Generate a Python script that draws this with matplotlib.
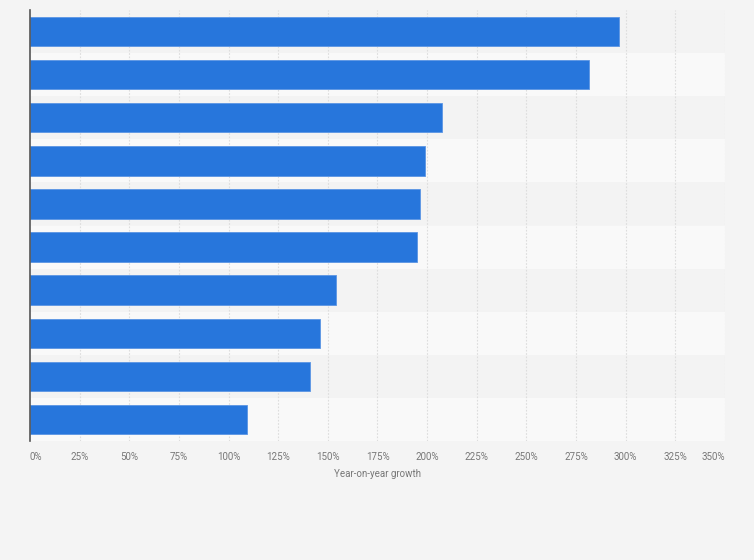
import matplotlib.pyplot as plt
import numpy as np

plt.rcParams["font.family"] = ["Roboto", "DejaVu Sans"]

# growth per bar, top to bottom (%)
values = [296.5, 281.3, 207.4, 198.8, 196.3, 194.8, 153.9, 146.1, 141.1, 109.2]
ticks = [0, 25, 50, 75, 100, 125, 150, 175, 200, 225, 250, 275, 300, 325, 350]
tick_labels = [f"{t}%" for t in ticks]

BG = "#f4f4f4"
BAR = "#2776dc"

fig = plt.figure(figsize=(7.54, 5.60), dpi=100, facecolor=BG)
ax = fig.add_axes([30 / 754, 1 - 441 / 560, 695 / 754, 431 / 560])
ax.set_facecolor(BG)

n = len(values)
y = np.arange(n)
for i in range(n):
    ax.axhspan(i - 0.5, i + 0.5, color="#f3f3f3" if i % 2 == 0 else "#f9f9f9",
               lw=0, zorder=0)

for t in ticks[1:]:
    ax.axvline(t, color="#dddddd", lw=0.8, ls=(0, (1.5, 1.5)), zorder=1)

ax.barh(y, values, height=0.68, color=BAR, edgecolor="#5b95e4", lw=0.6, zorder=2)

ax.set_xlim(0, 350)
ax.set_ylim(n - 0.5, -0.5)
ax.set_yticks([])
ax.set_xticks(ticks)
labels = ax.set_xticklabels(tick_labels, fontsize=7, color="#777777")
labels[0].set_ha("left")
labels[-1].set_ha("right")
ax.tick_params(axis="x", length=0, pad=8)

for s in ["top", "right", "bottom"]:
    ax.spines[s].set_visible(False)
ax.spines["left"].set_color("#555555")
ax.spines["left"].set_linewidth(1.2)

ax.set_xlabel("Year-on-year growth", fontsize=7, color="#777777", labelpad=5)

fig.savefig("out.png", dpi=100, facecolor=BG)
